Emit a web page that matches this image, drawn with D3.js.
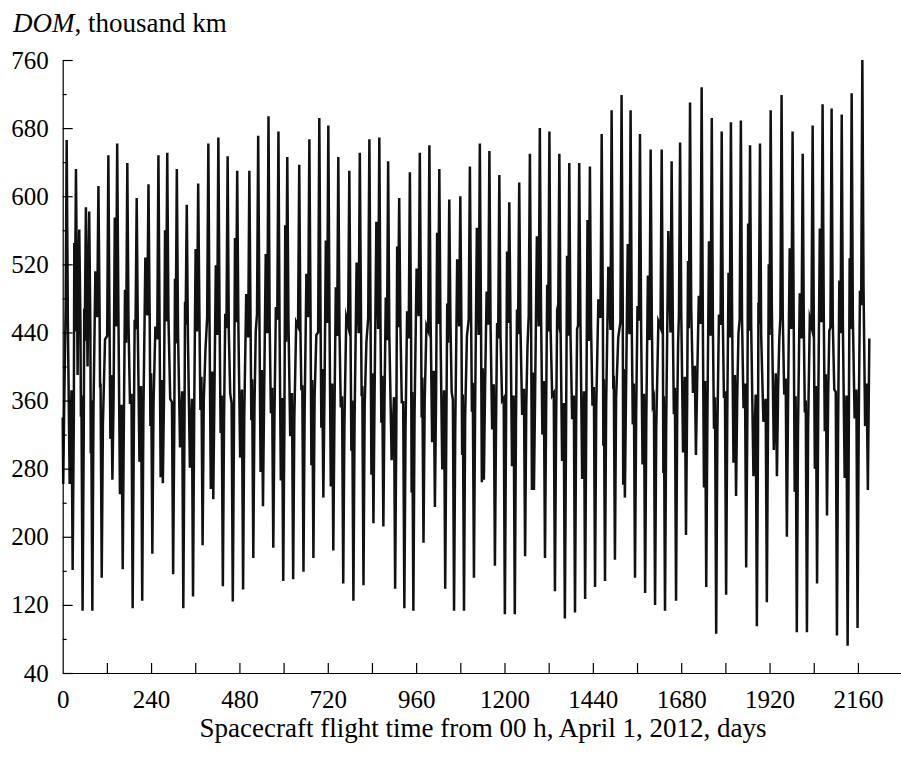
<!DOCTYPE html>
<html>
<head>
<meta charset="utf-8">
<script src="https://cdn.jsdelivr.net/npm/d3@7"></script>
<style>
  body { margin: 0; background: #fff; }
  text { font-family: "Liberation Serif", "Times New Roman", serif; fill: #000; }
  .axis path, .axis line { stroke: #000; stroke-width: 1.2px; }
  .axis text { font-size: 25px; }
</style>
</head>
<body>
<div id="chart"></div>
<script>
// DOM (thousand km) vs flight time (days)

// first few points of the record
var startDay = [0, 1.5, 4, 8];
var startDom = [340, 262, 350, 470];

// spike tips (tall maxima and deep minima) in time order
var extremeDay = [10.8, 27, 36, 45, 54, 63, 72, 80.5, 97, 106, 124, 135, 148, 163, 175.5, 190, 201, 216, 233, 243.5,
  260, 272, 284, 300, 310, 327.6, 337, 354, 368, 380, 395.6, 409, 422.8, 435, 448, 462, 474, 490, 507, 517.7,
  531, 544, 559, 572, 586, 599, 610, 626, 642.5, 654, 670, 681, 697, 708, 721.5, 735, 748.6, 762, 778.5, 789.6,
  807, 817, 833, 844, 860, 871, 884, 903, 914, 928, 943, 952.5, 970, 980, 996, 1011, 1023, 1039, 1050, 1063,
  1080, 1090, 1106, 1117, 1133, 1144, 1159, 1174, 1186, 1201, 1213, 1228, 1240, 1256, 1269, 1280, 1296, 1310, 1322, 1337,
  1349, 1364, 1376, 1391.5, 1403, 1419, 1432, 1446, 1464, 1473, 1491, 1500, 1518, 1527, 1542.5, 1554.5, 1568, 1582, 1597, 1609,
  1627, 1636, 1654, 1666, 1677, 1693, 1704, 1720, 1735.5, 1748, 1763, 1775, 1790, 1802, 1815, 1829, 1842, 1856.5, 1867, 1885.5,
  1894, 1912.6, 1923, 1940, 1952.6, 1967, 1982.5, 1994, 2010, 2021.5, 2037, 2049, 2064, 2076, 2088.5, 2103, 2116, 2132, 2143, 2159,
  2172, 2187];
var extremeDom = [666, 161, 632, 561, 113, 587, 582, 113, 612, 152, 648, 267, 662, 162, 639, 116, 598, 125, 614, 180,
  648, 263, 651, 156, 632, 116, 590, 130, 615, 190, 662, 244, 669, 142, 647, 124, 630, 138, 630, 175,
  671, 236, 694, 187, 676, 148, 646, 150, 637, 159, 667, 175, 692, 246, 683, 184, 646, 145, 630, 125,
  651, 143, 667, 216, 669, 212, 641, 139, 598, 116, 628, 113, 651, 193, 660, 235, 632, 139, 596, 113,
  600, 113, 635, 152, 662, 267, 653, 166, 625, 109, 593, 109, 616, 177, 650, 255, 680, 175, 676, 136,
  650, 104, 639, 111, 639, 127, 635, 141, 673, 148, 701, 173, 719, 246, 701, 152, 673, 134, 655, 120,
  655, 113, 641, 125, 663, 202, 710, 296, 728, 141, 692, 86, 676, 132, 687, 248, 689, 164, 660, 95,
  662, 123, 701, 271, 719, 200, 676, 88, 650, 88, 683, 145, 708, 225, 703, 84, 696, 72, 721, 93,
  760, 255];

// values the line passes between two neighbouring spikes:
// [leaving the spike, smaller swing in the gap, arriving at the next spike]
var bandDom = [[455, 262, 372], [338, 545, 441], [470, 390, 452], [448, 341, 366], [325, 468, 430],
  [462, 400, 455], [440, 298, 360], [352, 512, 458], [465, 375, 380], [332, 432, 436],
  [448, 315, 390], [362, 575, 447], [470, 250, 355], [340, 490, 428], [452, 356, 368],
  [322, 455, 444], [437, 288, 377], [345, 528, 460], [462, 330, 392], [356, 447, 432],
  [446, 270, 384], [366, 560, 453], [459, 362, 358], [338, 503, 427], [442, 305, 371],
  [330, 476, 449], [433, 281, 362], [348, 538, 441], [468, 349, 388], [360, 420, 458],
  [451, 256, 394], [371, 519, 437], [463, 322, 366], [335, 462, 445], [440, 368, 357],
  [327, 551, 452], [447, 293, 373], [343, 485, 434], [457, 337, 385], [352, 441, 462],
  [466, 276, 396], [368, 532, 439], [449, 345, 375], [341, 470, 455], [438, 266, 363],
  [333, 566, 429], [454, 318, 369], [339, 452, 447], [444, 372, 378], [349, 509, 458],
  [461, 284, 384], [364, 437, 440], [470, 328, 397], [373, 548, 451], [456, 259, 380],
  [347, 493, 436], [442, 352, 365], [331, 458, 448], [450, 301, 360], [336, 522, 439],
  [464, 365, 377], [354, 429, 457], [458, 273, 392], [370, 570, 444], [449, 334, 389],
  [362, 481, 431], [437, 290, 364], [329, 541, 446], [452, 358, 358], [326, 465, 433],
  [445, 252, 370], [344, 515, 459], [467, 340, 387], [358, 448, 442], [460, 311, 395],
  [366, 557, 450], [441, 279, 372], [337, 474, 428], [453, 370, 361], [323, 526, 447],
  [439, 296, 367], [342, 436, 455], [462, 347, 381], [350, 563, 437], [455, 264, 398],
  [374, 488, 449], [447, 326, 379], [340, 451, 433], [436, 360, 363], [328, 535, 451],
  [458, 283, 366], [334, 467, 438], [449, 343, 374], [355, 424, 460], [463, 255, 393],
  [369, 553, 447], [468, 320, 383], [352, 496, 441], [444, 366, 369], [331, 459, 453],
  [451, 289, 357], [324, 530, 436], [440, 338, 366], [339, 444, 448], [457, 268, 371],
  [346, 572, 430], [446, 354, 376], [351, 479, 457], [465, 307, 385], [357, 517, 443],
  [459, 374, 389], [363, 434, 452], [471, 261, 397], [372, 544, 438], [448, 332, 380],
  [345, 471, 454], [443, 285, 368], [336, 507, 431], [454, 357, 362], [327, 453, 446],
  [438, 275, 365], [330, 559, 440], [452, 344, 375], [348, 426, 461], [462, 299, 388],
  [361, 524, 445], [469, 369, 401], [378, 483, 450], [457, 258, 383], [343, 547, 436],
  [441, 327, 364], [322, 461, 449], [450, 363, 371], [347, 510, 434], [464, 287, 390],
  [365, 439, 455], [456, 351, 380], [341, 568, 442], [445, 271, 367], [326, 475, 450],
  [437, 335, 362], [338, 520, 437], [466, 302, 392], [373, 431, 458], [460, 367, 386],
  [356, 539, 444], [448, 253, 365], [324, 486, 433], [439, 346, 360], [329, 456, 447],
  [455, 280, 377], [349, 562, 452], [463, 324, 391], [367, 442, 446], [453, 373, 370],
  [330, 501, 439], [447, 269, 366], [321, 527, 444], [458, 339, 373], [335, 489, 472],
  [495, 330, 380]];

// last point of the record
var endDay = 2191;
var endDom = 433;

// axis ticks
var xTickLabels = [0, 240, 480, 720, 960, 1200, 1440, 1680, 1920, 2160];
var xTicks = d3.range(120, 2281, 120);
var yTickLabels = [40, 120, 200, 280, 360, 440, 520, 600, 680, 760];
var yMinorTicks = [80, 160, 240, 320, 400, 480, 560, 640, 720];

window.onload = function(){
    drawChart();
};

function buildSeries(){
    var pts = [];
    startDay.forEach(function(d, i){ pts.push([d, startDom[i]]); });
    extremeDay.forEach(function(d, i){
        pts.push([d, extremeDom[i]]);
        if (i < bandDom.length) {
            var next = extremeDay[i + 1];
            // spikes are narrow: back in the mid band ~3 days either side of a tip
            pts.push([d + 3.2, bandDom[i][0]]);
            pts.push([(d + next) / 2, bandDom[i][1]]);
            pts.push([next - 3.2, bandDom[i][2]]);
        }
    });
    pts.push([endDay, endDom]);
    return pts;
}

function drawChart(){
    var width = 901, height = 761;
    var svg = d3.select("#chart").append("svg")
        .attr("width", width).attr("height", height);

    svg.append("rect").attr("width", width).attr("height", height).attr("fill", "#fff");

    var x = d3.scaleLinear().domain([0, 2277]).range([62.7, 901]);
    var y = d3.scaleLinear().domain([40, 760]).range([673, 60]);

    // data line
    var line = d3.line()
        .x(function(d){ return x(d[0]); })
        .y(function(d){ return y(d[1]); });

    svg.append("path")
        .datum(buildSeries())
        .attr("fill", "none")
        .attr("stroke", "#111")
        .attr("stroke-width", 2.5)
        .attr("stroke-linejoin", "miter")
        .attr("stroke-miterlimit", 10)
        .attr("d", line);

    // x axis: ticks every 120 days, labels every 240
    svg.append("g")
        .attr("class", "axis")
        .attr("transform", "translate(0," + y(40) + ")")
        .call(d3.axisBottom(x).tickValues(xTicks).tickSizeInner(-10).tickSizeOuter(0).tickFormat(""));

    svg.append("g")
        .attr("class", "axis")
        .attr("transform", "translate(0," + y(40) + ")")
        .call(d3.axisBottom(x).tickValues(xTickLabels).tickSize(0).tickPadding(17).tickFormat(d3.format("d")))
        .call(function(g){ g.select(".domain").remove(); });

    // y axis: labelled ticks every 80, short ticks in between
    svg.append("g")
        .attr("class", "axis")
        .attr("transform", "translate(" + x(0) + ",0)")
        .call(d3.axisLeft(y).tickValues(yTickLabels).tickSizeInner(-10).tickSizeOuter(0).tickPadding(14).tickFormat(d3.format("d")));

    svg.append("g")
        .attr("class", "axis")
        .attr("transform", "translate(" + x(0) + ",0)")
        .call(d3.axisLeft(y).tickValues(yMinorTicks).tickSize(-4).tickFormat(""))
        .call(function(g){ g.select(".domain").remove(); });

    // axis titles
    var yTitle = svg.append("text")
        .attr("x", 13)
        .attr("y", 32)
        .style("font-size", "27px");
    yTitle.append("tspan").style("font-style", "italic").text("DOM");
    yTitle.append("tspan").text(", thousand km");

    svg.append("text")
        .attr("x", 483)
        .attr("y", 737)
        .style("font-size", "27px")
        .style("text-anchor", "middle")
        .text("Spacecraft flight time from 00 h, April 1, 2012, days");
}
</script>
</body>
</html>
